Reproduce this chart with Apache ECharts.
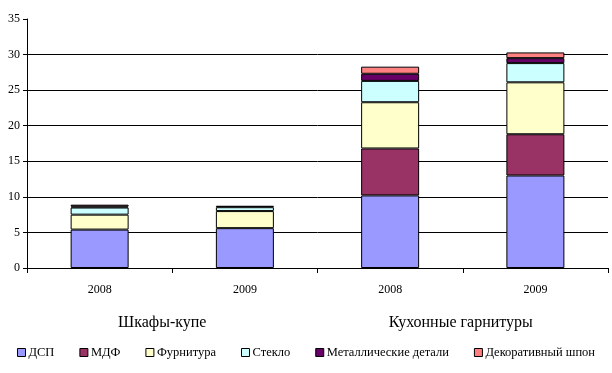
<!DOCTYPE html>
<html><head><meta charset="utf-8">
<script src="https://cdn.jsdelivr.net/npm/echarts@6/dist/echarts.min.js"></script>
<style>html,body{margin:0;padding:0;background:#fff}#c{width:612px;height:373px}</style>
</head><body><div id="c"></div>
<script>
const years = ['2008', '2009', '2008', '2009'];
const groups = ['Шкафы-купе', 'Кухонные гарнитуры'];
const seriesNames = ['ДСП', 'МДФ', 'Фурнитура', 'Стекло', 'Металлические детали', 'Декоративный шпон'];
const dsp = [5.4, 5.6, 10.2, 13.0];
const mdf = [0, 0, 6.6, 5.8];
const furn = [2.1, 2.4, 6.5, 7.3];
const glass = [1.0, 0.55, 3.0, 2.7];
const metal = [0.15, 0.2, 1.0, 0.7];
const veneer = [0.25, 0, 1.0, 0.8];
const yTicks = [0, 5, 10, 15, 20, 25, 30, 35];

const values = [dsp, mdf, furn, glass, metal, veneer];
const colors = ['#9999FF', '#993366', '#FFFFCC', '#CCFFFF', '#660066', '#FF8080'];
const font = 'Liberation Serif';
const chart = echarts.init(document.getElementById('c'));
chart.setOption({
  animation: false,
  textStyle: {fontFamily: font},
  grid: {left: 27, right: 4, top: 19, bottom: 105},
  legend: {
    top: 346, left: 'center', width: 612, padding: 0,
    itemWidth: 8, itemHeight: 8, itemGap: 25,
    icon: 'rect',
    textStyle: {fontFamily: font, fontSize: 12.5, color: '#000', padding: [0, 0, 0, -2]},
    itemStyle: {borderColor: '#000', borderWidth: 1},
    data: seriesNames
  },
  xAxis: [{
    type: 'category', data: years,
    axisLine: {lineStyle: {color: '#000', width: 1}},
    axisTick: {show: true, length: 5, lineStyle: {color: '#000'}},
    axisLabel: {color: '#000', fontFamily: font, fontSize: 12, margin: 16}
  }, {
    type: 'category', data: groups, position: 'bottom', offset: 39,
    axisLine: {show: false}, axisTick: {show: false},
    axisLabel: {
      color: '#000', fontFamily: font, fontSize: 16,
      formatter: (v, i) => i === 0 ? '{a|' + v + '}' : '{b|' + v + '}',
      rich: {
        a: {padding: [0, 20, 0, 0], fontFamily: font, fontSize: 16, color: '#000'},
        b: {padding: [0, 4, 0, 0], fontFamily: font, fontSize: 16, color: '#000'}
      }
    }
  }],
  yAxis: {
    type: 'value', min: yTicks[0], max: yTicks[yTicks.length - 1], interval: 5,
    axisLine: {show: true, lineStyle: {color: '#000'}},
    axisTick: {show: true, length: 4, lineStyle: {color: '#000'}},
    axisLabel: {color: '#000', fontFamily: font, fontSize: 12, margin: 7},
    splitLine: {show: true, showMaxLine: false, lineStyle: {color: '#000', width: 1}}
  },
  series: seriesNames.map((n, k) => ({
    name: n, type: 'bar', stack: 'all', barWidth: 58, xAxisIndex: 0,
    data: values[k].map(v => v === 0 ? null : v),
    itemStyle: {color: colors[k], borderColor: '#000', borderWidth: 1}
  }))
});
</script></body></html>
